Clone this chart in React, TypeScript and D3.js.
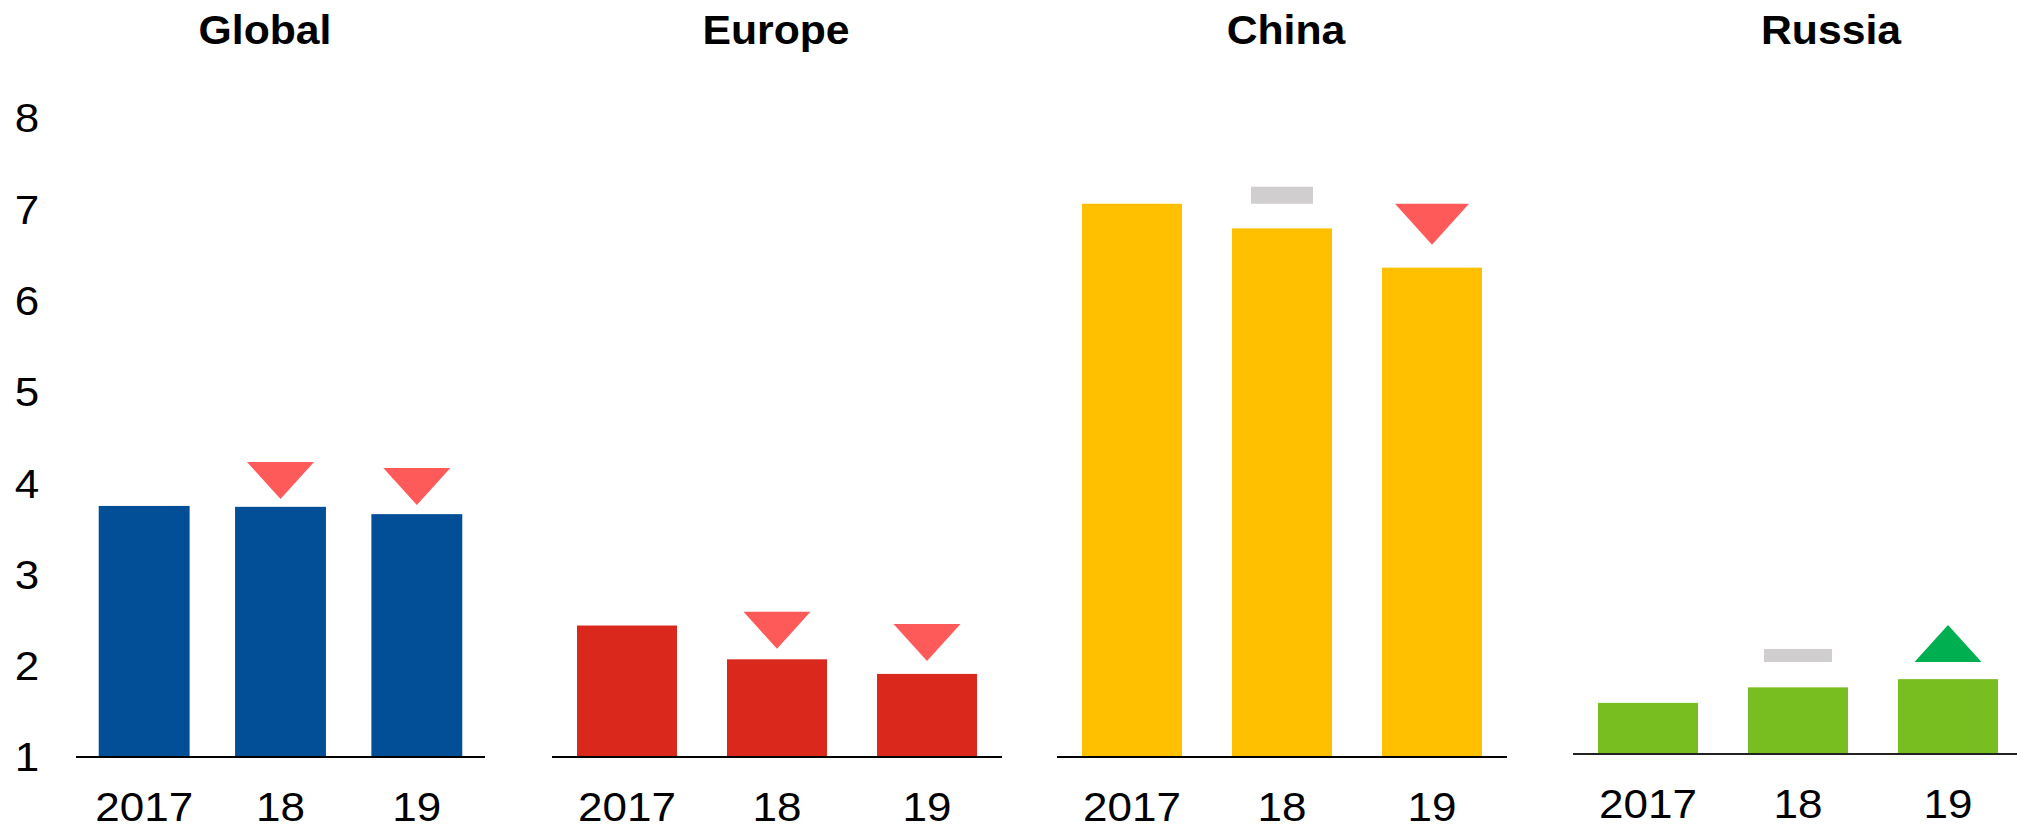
import React from "react";
import * as d3 from "d3";

// ---- data ----
const regions = ["Global", "Europe", "China", "Russia"];
const years = ["2017", "18", "19"];
const globalValues = [3.75, 3.74, 3.66];
const europeValues = [2.44, 2.07, 1.91];
const chinaValues = [7.06, 6.79, 6.36];
const russiaValues = [1.56, 1.73, 1.82];
const yTicks = [1, 2, 3, 4, 5, 6, 7, 8];

// change markers: type and the value level of the marker's top edge
const globalMarkers = [null, "down", "down"];
const globalMarkerLevels = [null, 4.23, 4.165];
const europeMarkers = [null, "down", "down"];
const europeMarkerLevels = [null, 2.59, 2.457];
const chinaMarkers = [null, "flat", "down"];
const chinaMarkerLevels = [null, 7.246, 7.06];
const russiaMarkers = [null, "flat", "up"];
const russiaMarkerLevels = [null, 2.15, 2.413];

// ---- layout / style ----
const W = 2017;
const H = 827;
const FONT = "'Liberation Sans', Arial, Helvetica, sans-serif";
const COLORS = {
  Global: "#024E97",
  Europe: "#DA291C",
  China: "#FFC000",
  Russia: "#78BE20",
};
const DOWN_COLOR = "#FF5A5A";
const UP_COLOR = "#00B050";
const FLAT_COLOR = "#D0CECE";
const LABEL_SX = 1.1;
const TITLE_SX = 1.03;

const panels = [
  { name: regions[0], values: globalValues, markers: globalMarkers, levels: globalMarkerLevels,
    x0: 76, x1: 485, base: 757, titleX: 265, triW: 67, triH: 37, dashW: 62, dashH: 17, axis: "#000" },
  { name: regions[1], values: europeValues, markers: europeMarkers, levels: europeMarkerLevels,
    x0: 552, x1: 1002, base: 757, titleX: 776, triW: 67, triH: 37, dashW: 62, dashH: 17, axis: "#000" },
  { name: regions[2], values: chinaValues, markers: chinaMarkers, levels: chinaMarkerLevels,
    x0: 1057, x1: 1507, base: 757, titleX: 1286, triW: 74, triH: 41, dashW: 62, dashH: 17, axis: "#000" },
  { name: regions[3], values: russiaValues, markers: russiaMarkers, levels: russiaMarkerLevels,
    x0: 1573, x1: 2023, base: 754, titleX: 1831, triW: 67, triH: 37, dashW: 68, dashH: 13, axis: "#222" },
];
const UNIT = 91.3; // px per value unit

export default function App() {
  const yMain = d3.scaleLinear().domain([1, 8]).range([757, 757 - 7 * UNIT]);

  return (
    <div style={{ position: "absolute", left: 0, top: 0 }}>
      <svg width={W} height={H} style={{ display: "block", background: "#fff" }} fontFamily={FONT}>
        {/* y axis tick labels */}
        {yTicks.map((t) => (
          <text key={t} transform={`translate(27,${yMain(t)}) scale(${LABEL_SX},1)`} dy="0.36em"
            textAnchor="middle" fontSize={40} fill="#000">
            {t}
          </text>
        ))}
        {panels.map((p) => {
          const x = d3.scaleBand<string>().domain(years).range([p.x0, p.x1]).paddingInner(1 / 3).paddingOuter(1 / 6);
          const y = d3.scaleLinear().domain([1, 8]).range([p.base, p.base - 7 * UNIT]);
          const color = (COLORS as any)[p.name];
          return (
            <g key={p.name}>
              <text transform={`translate(${p.titleX},44) scale(${TITLE_SX},1)`} textAnchor="middle"
                fontSize={41.5} fontWeight="bold" fill="#000">
                {p.name}
              </text>
              {years.map((yr, i) => {
                const bx = x(yr) as number;
                const bw = x.bandwidth();
                const v = p.values[i];
                return (
                  <rect key={yr} x={bx} y={y(v)} width={bw} height={y(1) - y(v)} fill={color} />
                );
              })}
              {years.map((yr, i) => {
                const m = p.markers[i];
                const lv = p.levels[i];
                if (!m || lv == null) return null;
                const cx = (x(yr) as number) + x.bandwidth() / 2;
                const top = y(lv);
                if (m === "down") {
                  const path = d3.path();
                  path.moveTo(cx - p.triW / 2, top);
                  path.lineTo(cx + p.triW / 2, top);
                  path.lineTo(cx, top + p.triH);
                  path.closePath();
                  return <path key={"m" + yr} d={path.toString()} fill={DOWN_COLOR} />;
                }
                if (m === "up") {
                  const path = d3.path();
                  path.moveTo(cx, top);
                  path.lineTo(cx + p.triW / 2, top + p.triH);
                  path.lineTo(cx - p.triW / 2, top + p.triH);
                  path.closePath();
                  return <path key={"m" + yr} d={path.toString()} fill={UP_COLOR} />;
                }
                return (
                  <rect key={"m" + yr} x={cx - p.dashW / 2} y={top} width={p.dashW} height={p.dashH} fill={FLAT_COLOR} />
                );
              })}
              <line x1={p.x0} x2={Math.min(p.x1, W)} y1={y(1)} y2={y(1)} stroke={p.axis} strokeWidth={2} />
              {years.map((yr) => (
                <text key={"l" + yr}
                  transform={`translate(${(x(yr) as number) + x.bandwidth() / 2},${p.base + 64}) scale(${LABEL_SX},1)`}
                  textAnchor="middle" fontSize={40} fill="#000">
                  {yr}
                </text>
              ))}
            </g>
          );
        })}
      </svg>
    </div>
  );
}
